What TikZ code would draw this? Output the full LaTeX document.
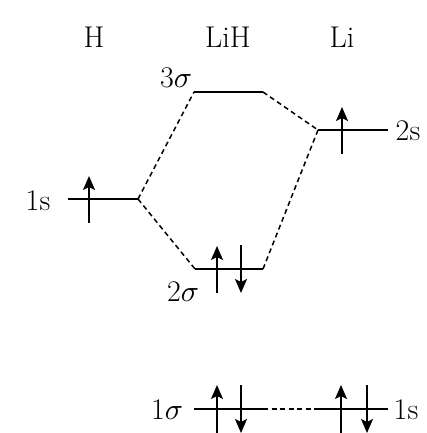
\documentclass[tikz,border=0pt]{standalone}
\usepackage{graphicx}
\usetikzlibrary{arrows.meta}
\newcommand\labfont{\fontsize{30pt}{34pt}\selectfont}
\newcommand\bigsig{\scalebox{3}{\normalsize$\sigma$}}
\begin{document}
\begin{tikzpicture}[x=1pt,y=-1pt,
  lvl/.style={line width=2.6pt},
  conn/.style={line width=1.5pt,dash pattern=on 5pt off 3.5pt},
  spin/.style={line width=1.9pt,-{Stealth[length=14pt,width=12pt,inset=3pt]}},
  lab/.style={inner sep=0pt}]
\useasboundingbox (0,0) rectangle (426,433);
% headers
\node[lab] (hH) at (94,37) {\labfont H};
\node[lab] (hLiH) at (228,37) {\labfont LiH};
\node[lab] (hLi) at (342,37) {\labfont Li};
% level end points
\coordinate (s3L) at (194,92); \coordinate (s3R) at (263,92);
\coordinate (hL) at (68,199); \coordinate (hR) at (138,199);
\coordinate (liL) at (318,130); \coordinate (liR) at (388,130);
\coordinate (s2L) at (195,269); \coordinate (s2R) at (263,269);
\coordinate (s1L) at (194,409); \coordinate (s1R) at (263,409);
\coordinate (l1L) at (318,409); \coordinate (l1R) at (388,409);
% levels
\draw[lvl] (s3L) -- (s3R);
\draw[lvl] (hL) -- (hR);
\draw[lvl] (liL) -- (liR);
\draw[lvl] (s2L) -- (s2R);
\draw[lvl] (s1L) -- (s1R);
\draw[lvl] (l1L) -- (l1R);
% connectors
\draw[conn] (hR) -- (s3L);
\draw[conn] (s3R) -- (liL);
\draw[conn] (hR) -- (s2L);
\draw[conn] (liL) -- (s2R);
\draw[conn] (s1R) -- (l1L);
% labels
\node[lab] (l3s) at (176,78) {\labfont 3\bigsig};
\node[lab] (lh1s) at (38,201) {\labfont 1s};
\node[lab] (lli2s) at (408,131) {\labfont 2s};
\node[lab] (l2s) at (183,292) {\labfont 2\bigsig};
\node[lab] (l1s) at (167,410) {\labfont 1\bigsig};
\node[lab] (lli1s) at (406,410) {\labfont 1s};
% electrons
\draw[spin] (89,223) -- (89,176);
\draw[spin] (342,154) -- (342,107);
\draw[spin] (217,293) -- (217,246);
\draw[spin] (241,245) -- (241,293);
\draw[spin] (217,433) -- (217,385);
\draw[spin] (241,385) -- (241,433);
\draw[spin] (341,433) -- (341,385);
\draw[spin] (367,385) -- (367,433);
\end{tikzpicture}
\end{document}
